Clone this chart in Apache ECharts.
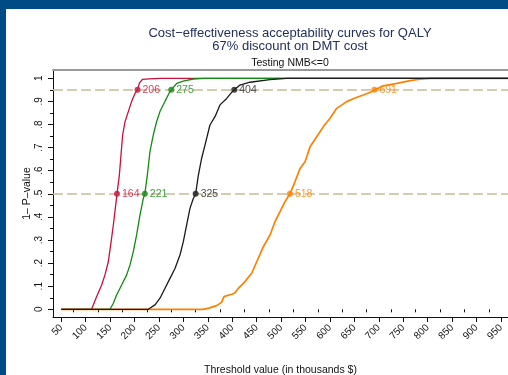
<!DOCTYPE html>
<html>
<head>
<meta charset="utf-8">
<script src="https://cdn.jsdelivr.net/npm/echarts@6/dist/echarts.min.js"></script>
<style>
  html, body { margin: 0; padding: 0; background: #ffffff; }
  #frame { position: absolute; left: 0; top: 0; width: 508px; height: 375px; background: #004b85; }
  #chart { position: absolute; left: 6px; top: 9px; width: 502px; height: 366px; background: #ffffff; }
</style>
</head>
<body>
<div id="frame"></div>
<div id="chart"></div>
<script>
// Threshold values (thousands $) and 1 - P-value for each acceptability curve
const redX = [50, 112, 115.5, 122.4, 132.6, 139.4, 146.2, 151, 156.5, 161.3, 164, 168.8, 172.2, 175.6, 180.4, 187.2, 194, 201, 206, 210, 216, 230, 252, 1000];
const redP = [0, 0, 0.019, 0.055, 0.105, 0.149, 0.206, 0.278, 0.365, 0.45, 0.5, 0.58, 0.668, 0.755, 0.812, 0.856, 0.9, 0.935, 0.95, 0.98, 0.995, 0.998, 1, 1];

const greenX = [50, 149.7, 156.5, 163.3, 173.5, 183.8, 190.6, 197.4, 204.2, 211, 217.9, 221, 226, 231.5, 238.3, 245.1, 251.9, 262.2, 272.4, 275, 286.2, 299.8, 320, 341, 1000];
const greenP = [0, 0, 0.026, 0.062, 0.105, 0.149, 0.192, 0.25, 0.322, 0.408, 0.48, 0.5, 0.58, 0.683, 0.755, 0.812, 0.856, 0.9, 0.943, 0.95, 0.978, 0.988, 0.997, 1, 1];

const blackX = [50, 228, 241.8, 252, 262.3, 272.5, 282.7, 292.9, 299.8, 306.6, 313.4, 320.2, 325, 330.5, 337.3, 344.1, 354.3, 364.6, 374.8, 388.5, 398.7, 404, 415.8, 436.2, 477, 511, 1000];
const blackP = [0, 0, 0.019, 0.048, 0.091, 0.134, 0.177, 0.235, 0.293, 0.365, 0.437, 0.48, 0.5, 0.58, 0.654, 0.711, 0.798, 0.834, 0.885, 0.913, 0.939, 0.95, 0.971, 0.983, 0.994, 1, 1];

const orangeX = [50, 340, 352, 368, 378, 383, 385, 398.7, 405, 412.4, 426, 439.7, 450, 463.6, 477.3, 487.5, 497.7, 508, 518, 528.5, 538.7, 548.9, 559.2, 572.8, 586.5, 600.1, 613.8, 634.2, 650, 668, 685, 691, 709, 737, 764, 784, 805, 1000];
const orangeP = [0, 0, 0.005, 0.016, 0.03, 0.055, 0.062, 0.065, 0.07, 0.091, 0.12, 0.156, 0.206, 0.271, 0.322, 0.38, 0.423, 0.466, 0.5, 0.553, 0.61, 0.639, 0.704, 0.747, 0.791, 0.827, 0.87, 0.899, 0.914, 0.928, 0.942, 0.95, 0.967, 0.978, 0.99, 0.996, 1, 1];

// Thresholds where each curve crosses the reference levels
const levels = [0.5, 0.95];
const redCross = [164, 206];
const greenCross = [221, 275];
const blackCross = [325, 404];
const orangeCross = [518, 691];

// Axis ticks
const xTickLabels = [50, 100, 150, 200, 250, 300, 350, 400, 450, 500, 550, 600, 650, 700, 750, 800, 850, 900, 950];
const xMinorTicks = [75, 125, 175, 225, 275, 325, 375, 425, 475, 525, 575, 625, 675, 725, 775, 825, 875, 925];
const yTickLabels = [0, 0.1, 0.2, 0.3, 0.4, 0.5, 0.6, 0.7, 0.8, 0.9, 1];
const yMinorTicks = [0.05, 0.15, 0.25, 0.35, 0.45, 0.55, 0.65, 0.75, 0.85, 0.95];

const font = 'Liberation Sans, Arial, sans-serif';
const colors = { red: '#c8103a', green: '#138a13', black: '#1a1a1a', orange: '#ff8000' };

const zip = (xs, ys) => xs.map((x, i) => [x, ys[i]]);
const fmtY = v => v === 0 ? '0' : v === 1 ? '1' : String(v).replace(/^0/, '');

const X_MIN = 33, X_MAX = 964.4, Y_MIN = -0.0333, Y_MAX = 1.036;

function curve(name, xs, ys, color, width) {
  return {
    name, type: 'line', data: zip(xs, ys), showSymbol: false, symbol: 'none',
    lineStyle: { color, width }, xAxisIndex: 0, yAxisIndex: 0, z: 3, silent: true, animation: false
  };
}
function crossings(name, xs, color) {
  return {
    name: name + ' crossings', type: 'scatter', data: zip(xs, levels),
    symbol: 'circle', symbolSize: 6, itemStyle: { color },
    label: {
      show: true, position: 'right', distance: 2, color, fontFamily: font, fontSize: 10.5,
      formatter: p => String(p.value[0])
    },
    z: 5, xAxisIndex: 0, yAxisIndex: 0, animation: false
  };
}

const chart = echarts.init(document.getElementById('chart'), null, { renderer: 'canvas' });

const hiddenPart = { show: false };
chart.setOption({
  animation: false,
  backgroundColor: '#ffffff',
  title: [
    { text: 'Cost\u2212effectiveness acceptability curves for QALY\n67% discount on DMT cost',
      left: 279, top: 13, textAlign: 'center',
      textStyle: { fontFamily: font, fontSize: 13, fontWeight: 'normal', color: '#22305a', lineHeight: 13 } },
    { text: 'Testing NMB<=0', left: 279, top: 44, textAlign: 'center',
      textStyle: { fontFamily: font, fontSize: 10.5, fontWeight: 'normal', color: '#111111' } }
  ],
  grid: { left: 47, right: 0, top: 61, bottom: 58, containLabel: false, outerBoundsMode: 'none' },
  xAxis: [
    { type: 'value', min: X_MIN, max: X_MAX, position: 'bottom',
      name: 'Threshold value (in thousands $)', nameLocation: 'middle', nameGap: 48, nameMoveOverlap: false,
      nameTextStyle: { fontFamily: font, fontSize: 10.5, color: '#111111' },
      axisLine: { show: true, onZero: false, lineStyle: { color: '#111111', width: 1 } },
      axisTick: { show: true, length: 5, lineStyle: { color: '#111111' }, customValues: xTickLabels },
      axisLabel: { show: true, rotate: 45, margin: 9, fontFamily: font, fontSize: 10, color: '#111111', customValues: xTickLabels },
      splitLine: hiddenPart },
    { type: 'value', min: X_MIN, max: X_MAX, position: 'bottom',
      axisLine: hiddenPart,
      axisTick: { show: true, length: 3, lineStyle: { color: '#111111' }, customValues: xMinorTicks },
      axisLabel: hiddenPart, splitLine: hiddenPart },
    { type: 'value', min: X_MIN, max: X_MAX, position: 'top',
      axisLine: { show: true, onZero: false, lineStyle: { color: '#999999', width: 2 } },
      axisTick: hiddenPart, axisLabel: hiddenPart, splitLine: hiddenPart }
  ],
  yAxis: [
    { type: 'value', min: Y_MIN, max: Y_MAX, position: 'left',
      name: '1\u2013 P\u2013value', nameLocation: 'middle', nameGap: 20, nameRotate: 90, nameMoveOverlap: false,
      nameTextStyle: { fontFamily: font, fontSize: 10.5, color: '#111111' },
      axisLine: { show: true, onZero: false, lineStyle: { color: '#111111', width: 1 } },
      axisTick: { show: true, length: 5, lineStyle: { color: '#111111' }, customValues: yTickLabels },
      axisLabel: { show: true, rotate: 90, margin: 9, fontFamily: font, fontSize: 10, color: '#111111',
                   customValues: yTickLabels, formatter: fmtY },
      splitLine: hiddenPart },
    { type: 'value', min: Y_MIN, max: Y_MAX, position: 'left',
      axisLine: hiddenPart,
      axisTick: { show: true, length: 3, lineStyle: { color: '#111111' }, customValues: yMinorTicks },
      axisLabel: hiddenPart, splitLine: hiddenPart }
  ],
  series: [
    {
      name: 'reference levels', type: 'line', data: [], xAxisIndex: 0, yAxisIndex: 0,
      markLine: {
        silent: true, symbol: 'none', label: { show: false },
        lineStyle: { color: '#c9bd96', width: 1.6, type: [10, 4] },
        data: levels.map(v => ({ yAxis: v }))
      }, z: 2
    },
    curve('orange', orangeX, orangeP, colors.orange, 1.7),
    curve('red', redX, redP, colors.red, 1.3),
    curve('green', greenX, greenP, colors.green, 1.3),
    curve('black', blackX, blackP, colors.black, 1.3),
    crossings('red', redCross, colors.red),
    crossings('green', greenCross, colors.green),
    crossings('black', blackCross, colors.black),
    crossings('orange', orangeCross, colors.orange)
  ]
});
</script>
</body>
</html>
